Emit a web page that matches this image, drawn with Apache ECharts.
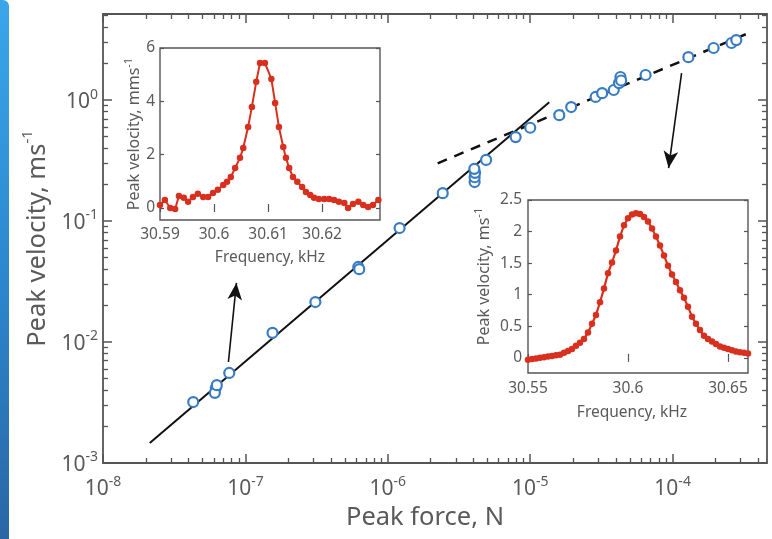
<!DOCTYPE html>
<html><head><meta charset="utf-8">
<script src="https://cdn.jsdelivr.net/npm/echarts@6/dist/echarts.min.js"></script>
<style>html,body{margin:0;padding:0;background:#fff}#c{width:772px;height:539px}</style>
</head><body><div id="c"></div>
<script>
// ---- main plot data (peak force N, peak velocity m/s) ----
const forceN = [4.3e-8, 6.2e-8, 6.1e-8, 6.3e-8, 7.7e-8, 1.55e-7, 3.1e-7, 6.2e-7, 6.3e-7, 1.21e-6, 2.43e-6,
  4.07e-6, 4.07e-6, 4.1e-6, 4.05e-6, 4.9e-6, 7.9e-6, 1.0e-5, 1.6e-5, 1.94e-5, 2.88e-5, 3.2e-5,
  3.86e-5, 4.2e-5, 4.3e-5, 4.35e-5, 6.46e-5, 1.29e-4, 1.94e-4, 2.59e-4, 2.8e-4];
const velocityMs = [3.19e-3, 4.17e-3, 3.8e-3, 4.4e-3, 5.55e-3, 1.19e-2, 2.14e-2, 4.17e-2, 4.0e-2, 8.75e-2, 0.17,
  0.21, 0.23, 0.25, 0.27, 0.32, 0.494, 0.59, 0.75, 0.875, 1.06, 1.14,
  1.21, 1.38, 1.55, 1.45, 1.61, 2.26, 2.69, 2.96, 3.13];
const fitSolidF = [2.13e-8, 1.36e-5];
const fitSolidV = [1.46e-3, 0.96];
const fitDashF = [2.24e-6, 3.56e-4];
const fitDashV = [0.30, 3.65];
const arrowLeftF = [7.6e-8, 8.65e-8];
const arrowLeftV = [6.84e-3, 3.08e-2];
const arrowRightF = [1.156e-4, 9.37e-5];
const arrowRightV = [1.67, 0.274];
const majorX = [1e-8, 1e-7, 1e-6, 1e-5, 1e-4];
const majorY = [1e-3, 1e-2, 1e-1, 1e0];

// ---- left inset (kHz, mm/s) ----
const freqA = [30.5900,30.5909,30.5919,30.5928,30.5935,30.5944,30.5952,30.5961,30.5970,30.5980,
  30.5989,30.5998,30.6007,30.6017,30.6024,30.6031,30.6039,30.6048,30.6054,30.6063,
  30.6070,30.6078,30.6085,30.6094,30.6106,30.6113,30.6120,30.6128,30.6133,30.6139,
  30.6146,30.6154,30.6163,30.6170,30.6178,30.6185,30.6194,30.6204,30.6213,30.6222,
  30.6231,30.6241,30.6248,30.6257,30.6267,30.6276,30.6285,30.6294,30.6304];
const velA = [0.11,0.30,0.00,-0.04,0.45,0.38,0.23,0.41,0.53,0.41,
  0.41,0.56,0.68,0.86,0.98,1.16,1.50,1.88,2.25,3.04,
  3.79,4.73,5.44,5.44,4.84,3.94,3.04,2.29,1.88,1.50,
  1.16,0.98,0.79,0.60,0.49,0.38,0.34,0.34,0.34,0.30,
  0.23,0.19,0.00,0.15,0.23,0.11,0.04,0.11,0.30];
const ticksAX = [30.59, 30.6, 30.61, 30.62];
const ticksAY = [0, 2, 4, 6];

// ---- right inset (kHz, m/s) ----
const freqB = [30.550,30.552,30.554,30.556,30.558,30.560,30.562,30.564,30.566,30.568,
  30.570,30.572,30.574,30.576,30.578,30.580,30.582,30.584,30.586,30.588,
  30.590,30.592,30.594,30.596,30.598,30.600,30.602,30.604,30.606,30.608,
  30.610,30.612,30.614,30.616,30.618,30.620,30.622,30.624,30.626,30.628,
  30.630,30.632,30.634,30.636,30.638,30.640,30.642,30.644,30.646,30.648,
  30.650,30.652,30.654,30.656,30.658,30.660];
const velB = [-0.03,-0.02,-0.01,0.00,0.01,0.02,0.03,0.04,0.05,0.08,
  0.11,0.14,0.19,0.24,0.30,0.40,0.54,0.68,0.88,1.10,
  1.34,1.51,1.70,1.92,2.10,2.21,2.27,2.29,2.28,2.23,
  2.16,2.05,1.92,1.78,1.62,1.46,1.32,1.20,1.07,0.95,
  0.81,0.65,0.54,0.44,0.35,0.30,0.26,0.22,0.18,0.16,
  0.14,0.12,0.10,0.09,0.08,0.07];
const ticksBX = [30.55, 30.6, 30.65];
const ticksBY = [0, 0.5, 1, 1.5, 2, 2.5];

// ---- styling ----
const FONT = '"Noto Sans", "Open Sans", "DejaVu Sans", sans-serif';
const GREY = '#555';
const TXT = '#5a5a5a';
const BLUE = '#3a7cc3';
const RED = '#d8301f';

function minorOf(decades) {
  const out = [];
  decades.forEach(d => { for (let m = 2; m <= 9; m++) out.push(m * d); });
  return out;
}
const minorX = minorOf(majorX);
const minorY = minorOf(majorY);

const pair = (a, b) => a.map((v, i) => [v, b[i]]);

const mainRich = {
  b: {fontSize: 21, lineHeight: 25, verticalAlign: 'bottom', color: TXT, fontFamily: FONT},
  s: {fontSize: 14, lineHeight: 15, verticalAlign: 'top', color: TXT, fontFamily: FONT}
};
const powLabel = v => '{b|10}{s|' + Math.round(Math.log10(v)) + '}';
const numLabel = v => String(+(+v).toFixed(3));

const xMin = 9.9999e-9, xMax = 4.6e-4, yMin = 9.9999e-4, yMax = 5.14;

function logAxis(extra, isX) {
  return Object.assign({
    type: 'log', logBase: 10, gridIndex: 0,
    min: isX ? xMin : yMin, max: isX ? xMax : yMax,
    axisLine: {show: false}, splitLine: {show: false}, minorTick: {show: false},
    axisLabel: {show: false}
  }, extra);
}
function tickStyle(vals, len, w) {
  return {show: true, inside: true, length: len, customValues: vals, lineStyle: {color: GREY, width: w}};
}
function valAxis(grid, min, max, pos, ticks, extra) {
  return Object.assign({
    type: 'value', gridIndex: grid, min: min, max: max, position: pos,
    axisLine: {show: false}, splitLine: {show: false},
    axisTick: tickStyle(ticks, 4, 1.2),
    axisLabel: {show: false}
  }, extra || {});
}
const insetLabel = (vals, margin) => ({
  show: true, customValues: vals, formatter: numLabel, margin: margin,
  fontSize: 15.5, color: TXT, fontFamily: FONT
});
const insetName = (rich) => ({fontSize: 15.5, color: TXT, fontFamily: FONT, rich: rich});
const supRich = {
  a: {fontSize: 16, color: TXT, fontFamily: FONT, lineHeight: 19, verticalAlign: 'bottom'},
  s: {fontSize: 11, color: TXT, fontFamily: FONT, lineHeight: 12, verticalAlign: 'top'}
};

const xAxes = [
  logAxis({position: 'bottom', axisTick: tickStyle(majorX, 9, 1.5),
    axisLabel: {show: true, customValues: majorX, formatter: powLabel, margin: 12, rich: mainRich},
    name: 'Peak force, N', nameLocation: 'middle', nameGap: 41,
    nameTextStyle: {fontSize: 25.5, color: TXT, fontFamily: FONT, padding: [0, 20, 0, 0]}}, true),
  logAxis({position: 'bottom', axisTick: tickStyle(minorX, 5, 1.3)}, true),
  logAxis({position: 'top', axisTick: tickStyle(majorX, 9, 1.5)}, true),
  logAxis({position: 'top', axisTick: tickStyle(minorX, 5, 1.3)}, true),
  valAxis(1, 30.59, 30.6307, 'bottom', ticksAX, {axisLabel: insetLabel(ticksAX, 7),
    name: 'Frequency, kHz', nameLocation: 'middle', nameGap: 30, nameTextStyle: insetName()}),
  valAxis(1, 30.59, 30.6307, 'top', ticksAX),
  valAxis(2, 30.55, 30.66, 'bottom', ticksBX, {axisLabel: insetLabel(ticksBX, 8),
    name: 'Frequency, kHz', nameLocation: 'middle', nameGap: 32,
    nameTextStyle: Object.assign(insetName(), {padding: [0, 12, 0, 0]})}),
  valAxis(2, 30.55, 30.66, 'top', ticksBX)
];
const yAxes = [
  logAxis({position: 'left', axisTick: tickStyle(majorY, 9, 1.5),
    axisLabel: {show: true, customValues: majorY, formatter: powLabel, margin: 5, rich: mainRich},
    name: '{a|Peak velocity, ms}{s|-1}', nameLocation: 'middle', nameGap: 52,
    nameTextStyle: {color: TXT, fontFamily: FONT, rich: {
      a: {fontSize: 25.5, color: TXT, fontFamily: FONT, lineHeight: 30, verticalAlign: 'bottom'},
      s: {fontSize: 15, color: TXT, fontFamily: FONT, lineHeight: 16, verticalAlign: 'top'}}}}, false),
  logAxis({position: 'left', axisTick: tickStyle(minorY, 5, 1.3)}, false),
  logAxis({position: 'right', axisTick: tickStyle(majorY, 9, 1.5)}, false),
  logAxis({position: 'right', axisTick: tickStyle(minorY, 5, 1.3)}, false),
  valAxis(1, -0.45, 6, 'left', ticksAY, {axisLabel: insetLabel(ticksAY, 5),
    name: '{a|Peak velocity, mms}{s|-1}', nameLocation: 'middle', nameGap: 18, nameTextStyle: insetName(supRich)}),
  valAxis(1, -0.45, 6, 'right', ticksAY),
  valAxis(2, -0.24, 2.5, 'left', ticksBY, {axisLabel: insetLabel(ticksBY, 6),
    name: '{a|Peak velocity, ms}{s|-1}', nameLocation: 'middle', nameGap: 36,
    nameTextStyle: Object.assign(insetName(supRich), {padding: [0, 0, 0, 20]})}),
  valAxis(2, -0.24, 2.5, 'right', ticksBY)
];

const option = {
  animation: false,
  backgroundColor: '#fff',
  textStyle: {fontFamily: FONT},
  graphic: [{
    type: 'rect', left: 0, top: 0, z: -10,
    shape: {width: 9, height: 539, r: [0, 6, 0, 0]},
    style: {fill: new echarts.graphic.LinearGradient(0, 0, 0, 1, [
      {offset: 0, color: '#3aa6ea'}, {offset: 0.5, color: '#2c88cf'}, {offset: 1, color: '#2a66a6'}])}
  }],
  grid: [
    {left: 103, right: 5, top: 14, bottom: 76, show: true, borderColor: GREY, borderWidth: 1.8,
      backgroundColor: 'transparent', containLabel: false, outerBoundsMode: 'none'},
    {left: 160, top: 48, width: 220, height: 172, show: true, borderColor: GREY, borderWidth: 1.4,
      backgroundColor: '#fff', containLabel: false, outerBoundsMode: 'none'},
    {left: 528, top: 200, width: 220, height: 173, show: true, borderColor: GREY, borderWidth: 1.4,
      backgroundColor: '#fff', containLabel: false, outerBoundsMode: 'none'}
  ],
  xAxis: xAxes,
  yAxis: yAxes,
  series: [
    {type: 'line', xAxisIndex: 0, yAxisIndex: 0, data: pair(fitSolidF, fitSolidV), showSymbol: false,
      symbol: 'none', lineStyle: {color: '#111', width: 2}, z: 2, silent: true},
    {type: 'line', xAxisIndex: 0, yAxisIndex: 0, data: pair(fitDashF, fitDashV), showSymbol: false,
      symbol: 'none', lineStyle: {color: '#111', width: 2.5, type: [10, 8]}, z: 2, silent: true},
    {type: 'scatter', xAxisIndex: 0, yAxisIndex: 0, data: pair(forceN, velocityMs),
      symbol: 'circle', symbolSize: 10, z: 3,
      itemStyle: {color: '#fff', borderColor: BLUE, borderWidth: 2.2, opacity: 1},
      markLine: {
        silent: true, symbol: ['none', 'arrow'], symbolSize: [11, 17], animation: false,
        label: {show: false}, lineStyle: {color: '#111', width: 1.6, type: 'solid'},
        data: [
          [{coord: [arrowLeftF[0], arrowLeftV[0]]}, {coord: [arrowLeftF[1], arrowLeftV[1]]}],
          [{coord: [arrowRightF[0], arrowRightV[0]]}, {coord: [arrowRightF[1], arrowRightV[1]]}]
        ]
      }},
    {type: 'line', xAxisIndex: 4, yAxisIndex: 4, data: pair(freqA, velA), symbol: 'circle', symbolSize: 6.5,
      lineStyle: {color: RED, width: 2}, itemStyle: {color: RED}, z: 5},
    {type: 'line', xAxisIndex: 6, yAxisIndex: 6, data: pair(freqB, velB), symbol: 'circle', symbolSize: 6.5,
      lineStyle: {color: RED, width: 2.2}, itemStyle: {color: RED}, z: 5}
  ]
};
const chart = echarts.init(document.getElementById('c'));
chart.setOption(option);
</script></body></html>
